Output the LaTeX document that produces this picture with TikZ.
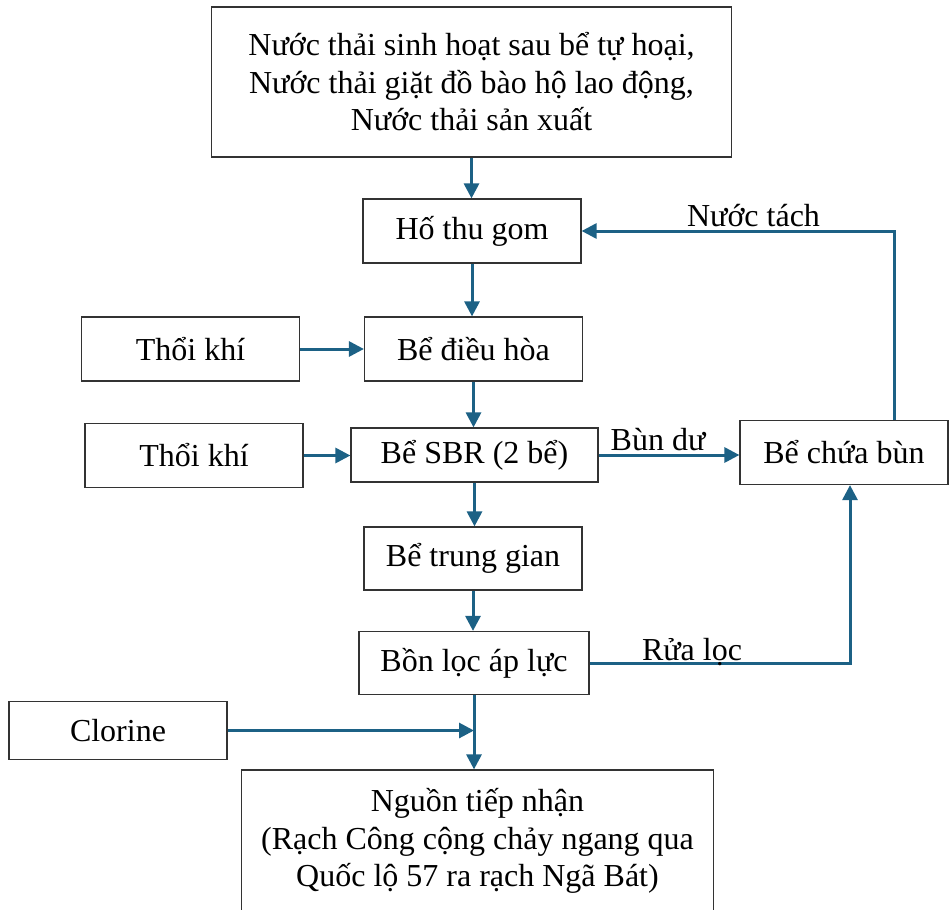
\documentclass[tikz,border=0pt]{standalone}
\usepackage{fontspec}
\setmainfont{Liberation Serif}
\usetikzlibrary{arrows.meta}

\definecolor{flowblue}{HTML}{1C6185}

\tikzstyle{box} = [rectangle,draw=black!80,line width=1.2pt,inner sep=0pt,align=center,font=\fontsize{32}{37.5}\selectfont]
\tikzstyle{flow} = [-{Triangle[length=15pt,width=15pt]},line width=3pt,draw=flowblue]
\tikzstyle{tag} = [anchor=base,inner sep=0pt,font=\fontsize{32}{37.5}\selectfont]

\begin{document}
\begin{tikzpicture}[x=1pt,y=-1pt]

\clip (0,0) rectangle (949,909);

% vertices
\node[box,minimum width=520pt,minimum height=150pt] (src) at (471.5,82) {Nước thải sinh hoạt sau bể tự hoại,\\Nước thải giặt đồ bào hộ lao động,\\Nước thải sản xuất};
\node[box,minimum width=218pt,minimum height=64pt] (hfg) at (472,231) {Hố thu gom};
\node[box,minimum width=218pt,minimum height=64pt] (tk1) at (190.5,349) {Thổi khí};
\node[box,minimum width=218pt,minimum height=64pt] (dh) at (473.5,349) {Bể điều hòa};
\node[box,minimum width=218pt,minimum height=64pt] (tk2) at (194,455.5) {Thổi khí};
\node[box,minimum width=247pt,minimum height=54pt] (sbr) at (474.5,455) {Bể SBR (2 bể)};
\node[box,minimum width=208pt,minimum height=64pt] (cb) at (844,452.5) {Bể chứa bùn};
\node[box,minimum width=218pt,minimum height=63pt] (tg) at (473,558.5) {Bể trung gian};
\node[box,minimum width=230pt,minimum height=63pt] (loc) at (474,663) {Bồn lọc áp lực};
\node[box,minimum width=218pt,minimum height=58pt] (clo) at (118,730.5) {Clorine};
\node[box,minimum width=472pt,minimum height=142pt] (ngu) at (477.5,841) {Nguồn tiếp nhận\\(Rạch Công cộng chảy ngang qua\\Quốc lộ 57 ra rạch Ngã Bát)};

% edges
\draw[flow] (src.south) -- (src.south |- hfg.north);
\draw[flow] (hfg.south) -- (hfg.south |- dh.north);
\draw[flow] (tk1.east) -- (dh.west);
\draw[flow] (dh.south) -- (dh.south |- sbr.north);
\draw[flow] (tk2.east) -- (tk2.east -| sbr.west);
\draw[flow] (sbr.east) -- (sbr.east -| cb.west);
\draw[flow] (sbr.south) -- (sbr.south |- tg.north);
\draw[flow] (tg.south) -- (tg.south |- loc.north);
\draw[flow] (loc.east) -| ([xshift=6pt]cb.south);
\draw[flow] ([xshift=50pt]cb.north) |- (hfg.east);
\draw[flow] (loc.south) -- (loc.south |- ngu.north);
\draw[flow] (clo.east) -- (clo.east -| loc.south);

% labels
\node[tag] (ltach) at (753.5,226.5) {Nước tách};
\node[tag] (ldu) at (658,450) {Bùn dư};
\node[tag] (lrua) at (692,660) {Rửa lọc};

\end{tikzpicture}
\end{document}
